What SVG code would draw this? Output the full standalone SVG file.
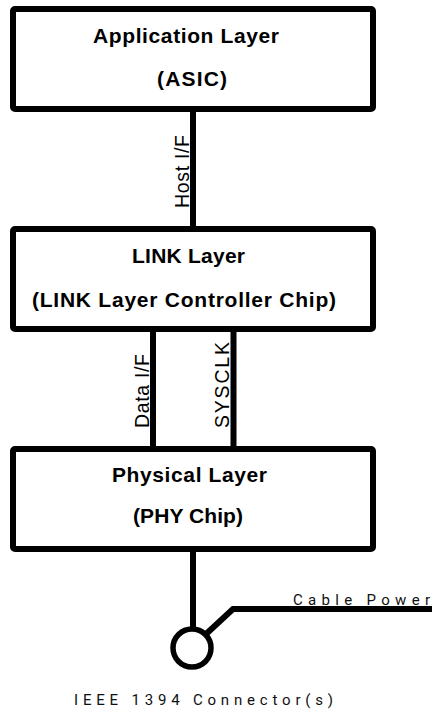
<svg xmlns="http://www.w3.org/2000/svg" width="432" height="713" viewBox="0 0 432 713">
<style>
.box{fill:#fff;stroke:#000;stroke-width:6}
.ln{fill:none;stroke:#000;stroke-width:6}
.t{font-family:"Liberation Sans",Arial,sans-serif;font-weight:bold;font-size:21px;fill:#000}
.v{font-family:"Liberation Sans",Arial,sans-serif;font-size:19.5px;fill:#000}
.c{font-family:Roboto,"Liberation Sans",sans-serif;font-size:15px;fill:#111}
</style>
<rect width="432" height="713" fill="#fff"/>
<g id="connectors">
<line class="ln" x1="193" y1="112" x2="193" y2="226"/>
<line class="ln" x1="153" y1="332" x2="153" y2="446"/>
<line class="ln" x1="233.5" y1="332" x2="233.5" y2="446"/>
<line class="ln" x1="193" y1="552" x2="193" y2="629"/>
<polyline class="ln" points="205.8,634.2 233,609 432,609"/>
<text class="v" transform="translate(189,208) rotate(-90)" textLength="73" lengthAdjust="spacing">Host I/F</text>
<text class="v" transform="translate(149,428) rotate(-90)" textLength="74" lengthAdjust="spacing">Data I/F</text>
<text class="v" transform="translate(229,428) rotate(-90)" textLength="86" lengthAdjust="spacing">SYSCLK</text>
<text class="c" x="293" y="605" textLength="137" lengthAdjust="spacing">Cable Power</text>
</g>
<g id="app">
<rect class="box" x="13" y="9" width="360" height="100" rx="2"/>
<text class="t" x="93" y="43" textLength="186" lengthAdjust="spacing">Application Layer</text>
<text class="t" x="157" y="86" textLength="70" lengthAdjust="spacing">(ASIC)</text>
</g>
<g id="link">
<rect class="box" x="13" y="229" width="360" height="100" rx="2"/>
<text class="t" x="132" y="263" textLength="113" lengthAdjust="spacing">LINK Layer</text>
<text class="t" x="32" y="307" textLength="304" lengthAdjust="spacing">(LINK Layer Controller Chip)</text>
</g>
<g id="phy">
<rect class="box" x="13" y="449" width="360" height="100" rx="2"/>
<text class="t" x="112" y="482" textLength="155" lengthAdjust="spacing">Physical Layer</text>
<text class="t" x="133" y="523" textLength="110" lengthAdjust="spacing">(PHY Chip)</text>
</g>
<g id="connector">
<circle cx="192" cy="648" r="19" fill="#fff" stroke="#000" stroke-width="5.5"/>
<text class="c" x="74" y="705" textLength="259" lengthAdjust="spacing">IEEE 1394 Connector(s)</text>
</g>
</svg>
